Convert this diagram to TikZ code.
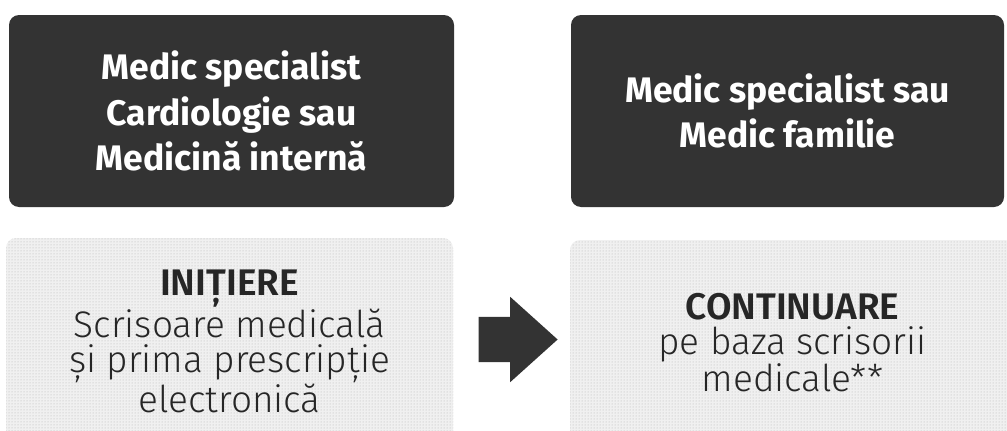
\documentclass[tikz,border=0pt]{standalone}
\usepackage{fontspec}
\setmainfont{Fira Sans}
\newfontfamily\lightfont{Fira Sans Light}
\usetikzlibrary{positioning, shapes.arrows, patterns}

\begin{document}
\begin{tikzpicture}[x=1pt, y=-1pt,
    darkbox/.style={fill=black!80, rounded corners=10pt, text=white,
        align=center, inner sep=0pt,
        font=\bfseries\fontsize{35.5}{45.5}\selectfont},
    lightbox/.style={fill=black!6, rounded corners=10pt, text=black!85,
        align=center, inner sep=0pt,
        postaction={pattern=dots, pattern color=black!30},
        font=\lightfont\fontsize{37}{35}\selectfont}]

    \useasboundingbox (0,0) rectangle (1007,431);

    % doctors
    \node[darkbox, minimum width=445pt, minimum height=192pt] (spec) at (231.5,111)
        {Medic specialist\\Cardiologie sau\\Medicină internă};
    \node[darkbox, minimum width=433pt, minimum height=192pt] (famdoc) at (787.5,111)
        {Medic specialist sau\\Medic familie};

    % steps
    \node[lightbox, minimum width=447pt, minimum height=207pt] (init) at (229.5,341.5)
        {{\bfseries\fontsize{37}{35}\selectfont INIȚIERE}\\Scrisoare medicală\\și prima prescripție\\electronică};
    \node[lightbox, minimum width=445pt, minimum height=205pt] (cont) at (792.5,342.5)
        {{\bfseries\fontsize{37}{35}\selectfont CONTINUARE}\\pe baza scrisorii\\medicale**};

    % arrow between the steps
    \node[single arrow, fill=black!80, inner xsep=0pt, inner ysep=22.5pt,
        single arrow head extend=20pt, single arrow tip angle=84,
        minimum height=79pt] (flow) at (505.5,339.5) {};

\end{tikzpicture}
\end{document}
